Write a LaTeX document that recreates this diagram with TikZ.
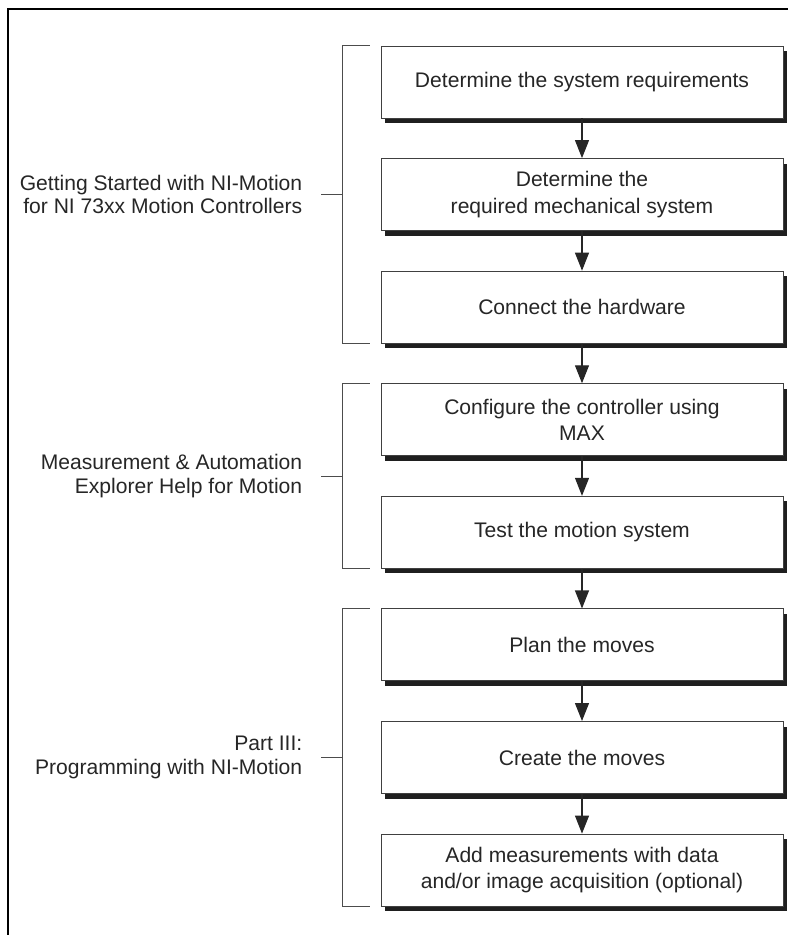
\documentclass[tikz,border=0pt]{standalone}
\usepackage{fontspec}
\setmainfont{Liberation Sans}
\usetikzlibrary{calc, positioning, arrows.meta, shadows}

\begin{document}
\begin{tikzpicture}[
	stepbox/.style={
		draw=black!75,
		fill=white,
		rectangle,
		align=center,
		line width=0.7pt,
		minimum width=10.05cm,
		minimum height=1.8cm,
		inner sep=0pt,
		text=black!85,
		font=\fontsize{15}{19}\selectfont,
		drop shadow={shadow xshift=0.1cm, shadow yshift=-0.125cm, opacity=1, fill=black!88}
	},
	grouplabel/.style={
		align=right,
		inner sep=0pt,
		text=black!85,
		font=\fontsize{15}{16.5}\selectfont
	},
	bracket/.style={draw=black!70, line width=0.7pt},
	flow/.style={-{Triangle[width=0.35cm, length=0.45cm]}, line width=0.8pt, draw=black!85, fill=black!85},
	node distance=0.99cm
	]
	
	\useasboundingbox (0,0) rectangle (19.7,-23.375);
	
	% Frame
	\draw [line width=0.05cm] (0.1875,-23.375) |- (19.7,-0.225);
	
	% Steps
	\node (req) [stepbox] at (14.55,-2.05) {Determine the system requirements};
	\node (mech) [stepbox, below=of req] {Determine the \\ required mechanical system};
	\node (hw) [stepbox, below=of mech] {Connect the hardware};
	\node (max) [stepbox, below=of hw] {Configure the controller using \\ MAX};
	\node (test) [stepbox, below=of max] {Test the motion system};
	\node (plan) [stepbox, below=of test] {Plan the moves};
	\node (create) [stepbox, below=of plan] {Create the moves};
	\node (meas) [stepbox, below=of create] {Add measurements with data \\ and/or image acquisition (optional)};
	
	% Arrows
	\draw [flow] (req) -- (mech);
	\draw [flow] (mech) -- (hw);
	\draw [flow] (hw) -- (max);
	\draw [flow] (max) -- (test);
	\draw [flow] (test) -- (plan);
	\draw [flow] (plan) -- (create);
	\draw [flow] (create) -- (meas);
	
	% Brackets
	\draw [bracket] ([xshift=-0.275cm]req.north west) -- ([xshift=-0.95cm]req.north west) coordinate (gs top)
		-- ([xshift=-0.95cm]hw.south west) coordinate (gs bot) -- ([xshift=-0.275cm]hw.south west);
	\draw [bracket] ($(gs top)!0.5!(gs bot)$) -- ++(-0.55,0) coordinate (gs tick);
	
	\draw [bracket] ([xshift=-0.275cm]max.north west) -- ([xshift=-0.95cm]max.north west) coordinate (mx top)
		-- ([xshift=-0.95cm]test.south west) coordinate (mx bot) -- ([xshift=-0.275cm]test.south west);
	\draw [bracket] ($(mx top)!0.5!(mx bot)$) -- ++(-0.55,0) coordinate (mx tick);
	
	\draw [bracket] ([xshift=-0.275cm]plan.north west) -- ([xshift=-0.95cm]plan.north west) coordinate (pg top)
		-- ([xshift=-0.95cm]meas.south west) coordinate (pg bot) -- ([xshift=-0.275cm]meas.south west);
	\draw [bracket] ($(pg top)!0.5!(pg bot)$) -- ++(-0.55,0) coordinate (pg tick);
	
	% Group labels
	\node (gs label) [grouplabel, left=0.45cm of gs tick] {Getting Started with NI-Motion \\ for NI 73xx Motion Controllers};
	\node (mx label) [grouplabel, left=0.45cm of mx tick] {Measurement \& Automation \\ Explorer Help for Motion};
	\node (pg label) [grouplabel, left=0.45cm of pg tick] {Part III: \\ Programming with NI-Motion};
	
\end{tikzpicture}
\end{document}
